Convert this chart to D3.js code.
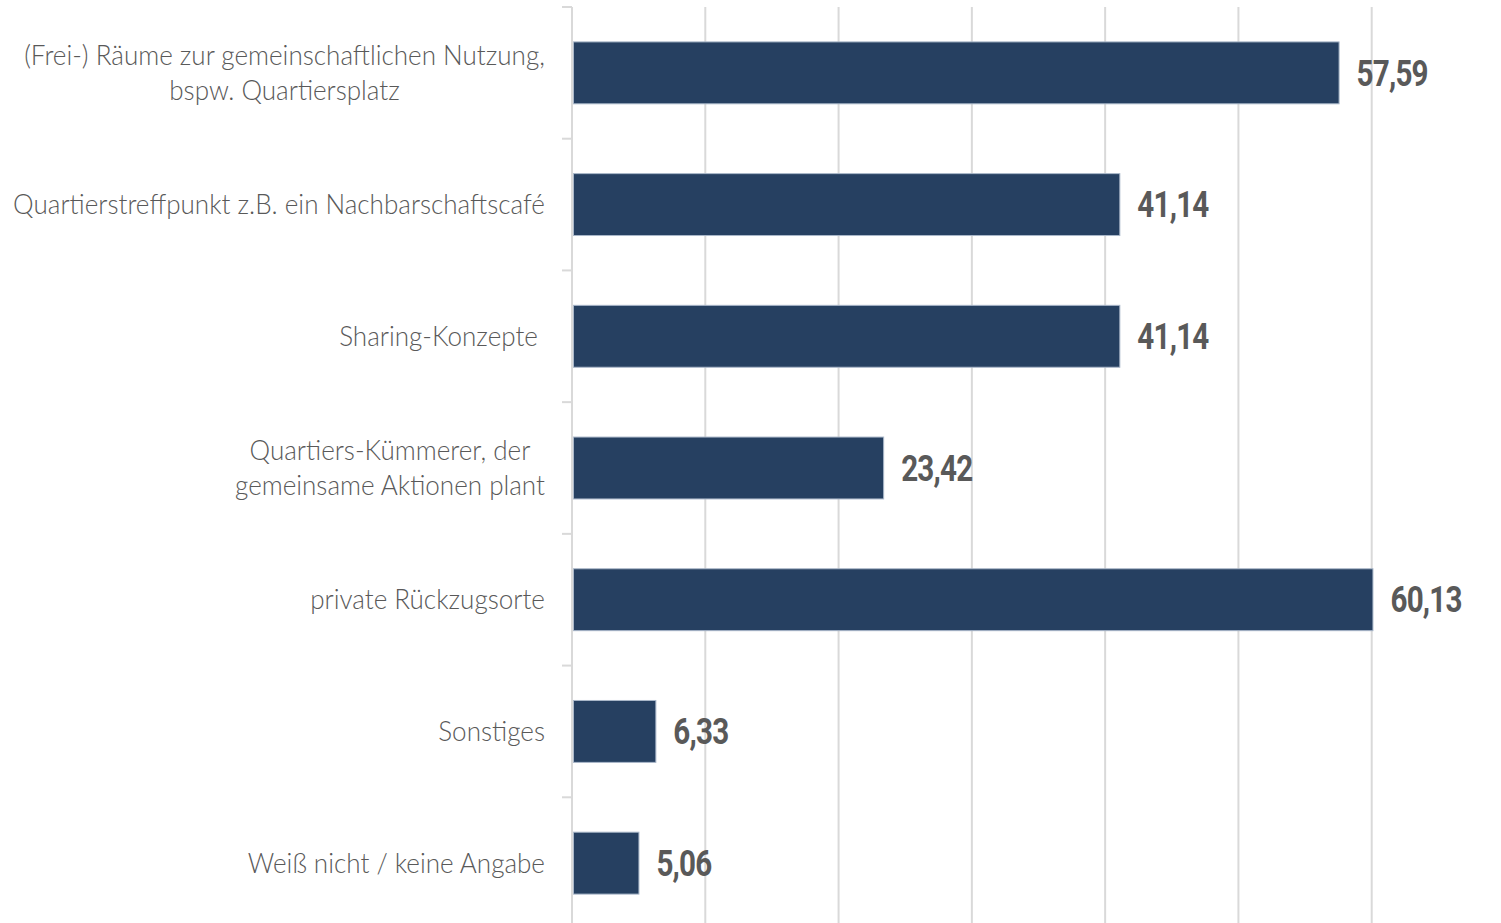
<!DOCTYPE html>
<html>
<head>
<meta charset="utf-8">
<script src="https://cdn.jsdelivr.net/npm/d3@7"></script>
<style>
  body { margin: 0; background: #fff; }
</style>
</head>
<body>
<div id="grafico"></div>
<script>
const WIDTH = 1501;
const HEIGHT = 923;

// data
let kategorien = [
    ["(Frei-) Räume zur gemeinschaftlichen Nutzung,", "bspw. Quartiersplatz"],
    ["Quartierstreffpunkt z.B. ein Nachbarschaftscafé"],
    ["Sharing-Konzepte "],
    ["Quartiers-Kümmerer, der", "gemeinsame Aktionen plant"],
    ["private Rückzugsorte"],
    ["Sonstiges"],
    ["Weiß nicht / keine Angabe"]
];
let werte = [57.59, 41.14, 41.14, 23.42, 60.13, 6.33, 5.06];
let gitter = [10, 20, 30, 40, 50, 60];

let svg = d3.select("#grafico")
    .append("svg")
    .attr("width", WIDTH)
    .attr("height", HEIGHT);

let x = d3.scaleLinear()
    .domain([0, 70])
    .range([572, 1505]);

let y = d3.scaleBand()
    .domain(d3.range(kategorien.length))
    .range([7, 929])
    .paddingInner(0.53)
    .paddingOuter(0.265);

// gridlines
svg.append("g")
    .selectAll("line")
    .data(gitter)
    .enter()
    .append("line")
    .attr("x1", d => x(d))
    .attr("x2", d => x(d))
    .attr("y1", 7)
    .attr("y2", HEIGHT)
    .style("stroke", "#d9d9d9")
    .style("stroke-width", 2);

// bars
svg.append("g")
    .selectAll("rect")
    .data(werte)
    .enter()
    .append("rect")
    .attr("x", x(0) + 1.5)
    .attr("y", (d, i) => y(i))
    .attr("width", d => x(d) - x(0) - 2)
    .attr("height", y.bandwidth())
    .style("fill", "#264061")
    .style("stroke", "#a9b7c9")
    .style("stroke-width", 1);

// y axis with tick marks between categories
let grenzen = d3.range(kategorien.length).map(i => y(i) - y.step() * y.paddingInner() / 2);
let achse = svg.append("g");
achse.append("line")
    .attr("x1", x(0))
    .attr("x2", x(0))
    .attr("y1", 7)
    .attr("y2", HEIGHT)
    .style("stroke", "#d9d9d9")
    .style("stroke-width", 2);
achse.selectAll(".tick")
    .data(grenzen)
    .enter()
    .append("line")
    .attr("class", "tick")
    .attr("x1", x(0) - 10)
    .attr("x2", x(0))
    .attr("y1", d => d)
    .attr("y2", d => d)
    .style("stroke", "#d9d9d9")
    .style("stroke-width", 2);

// category labels: block right-aligned, lines centred in the block
const LABEL_X = 545;
const LABEL_MAX_W = 532;
let labelGroup = svg.append("g");
let labels = labelGroup
    .selectAll("text")
    .data(kategorien)
    .enter()
    .append("text")
    .attr("text-anchor", "middle")
    .attr("dominant-baseline", "central")
    .style("font-family", "Lato, 'Open Sans', sans-serif")
    .style("font-weight", "300")
    .style("font-size", "28px")
    .style("fill", "#595959")
    .style("white-space", "pre");

labels.each(function(d, i){
    let cy = y(i) + y.bandwidth() / 2 - 2;
    let t = d3.select(this);
    d.forEach((zeile, k) => {
        t.append("tspan")
            .attr("y", cy + (k - (d.length - 1) / 2) * 35)
            .text(zeile);
    });
    // widest line of this label decides where the centre sits
    let w = d3.max(t.selectAll("tspan").nodes(), n => n.getComputedTextLength());
    t.selectAll("tspan").attr("x", -w / 2);
    this.__breite = w;
});
let breiteste = d3.max(labels.nodes(), n => n.__breite);
let sx = Math.min(1, LABEL_MAX_W / breiteste);
labels.attr("transform", `translate(${LABEL_X},0) scale(${sx},1)`);

// value labels
svg.append("g")
    .selectAll("text")
    .data(werte)
    .enter()
    .append("text")
    .attr("transform", (d, i) => `translate(${x(d) + 17},${y(i) + y.bandwidth() / 2}) scale(0.8,1)`)
    .attr("dominant-baseline", "central")
    .style("font-family", "Roboto, 'Open Sans', sans-serif")
    .style("font-weight", "bold")
    .style("font-size", "37px")
    .style("letter-spacing", "-1px")
    .style("fill", "#595959")
    .text(d => d.toFixed(2).replace(".", ","));
</script>
</body>
</html>
